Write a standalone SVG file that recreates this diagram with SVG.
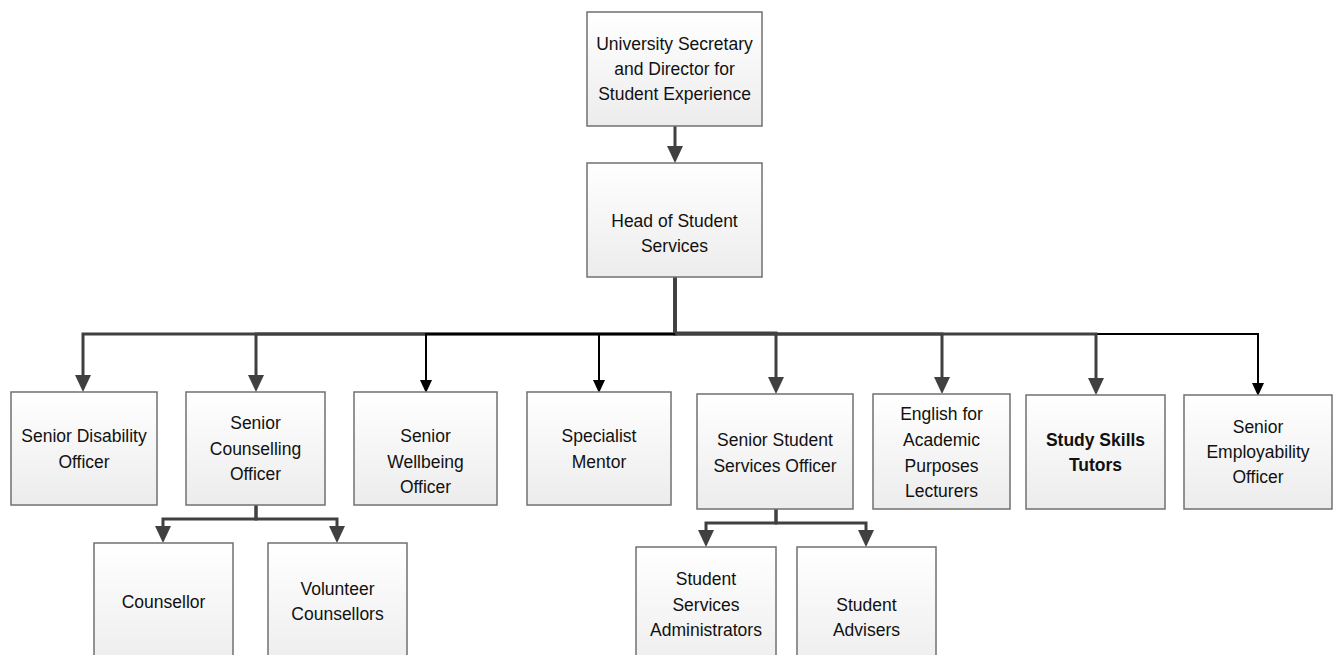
<svg xmlns="http://www.w3.org/2000/svg" width="1338" height="655" viewBox="0 0 1338 655">
  <defs>
    <linearGradient id="boxfill" x1="0" y1="0" x2="0" y2="1">
      <stop offset="0" stop-color="#ffffff"/>
      <stop offset="1" stop-color="#ececec"/>
    </linearGradient>
    <marker id="arrGray" markerUnits="userSpaceOnUse" viewBox="0 0 17 16" markerWidth="17" markerHeight="16" refX="9" refY="8" orient="auto">
      <path d="M0,0 L17,8 L0,16 z" fill="#404040"/>
    </marker>
    <marker id="arrBlack" markerUnits="userSpaceOnUse" viewBox="0 0 13 12" markerWidth="13" markerHeight="12" refX="6" refY="6" orient="auto">
      <path d="M0,0 L13,6 L0,12 z" fill="#000000"/>
    </marker>
  </defs>
  <style>
    .box { fill: url(#boxfill); stroke: #707070; stroke-width: 1.5; }
    .lbl { font-family: "Liberation Sans", Arial, sans-serif; font-size: 17.5px; fill: #111111; text-anchor: middle; }
    .bold { font-weight: bold; }
    .cg { fill: none; stroke: #404040; stroke-width: 3; }
    .cb { fill: none; stroke: #000000; stroke-width: 2; }
  </style>

  <g id="connectors">
    <path class="cg" d="M675,126 V155" marker-end="url(#arrGray)"/>
    <path class="cb" d="M675,334 H1258 V389" marker-end="url(#arrBlack)"/>
    <path class="cg" d="M675,277 V334 H83 V384" marker-end="url(#arrGray)"/>
    <path class="cg" d="M675,277 V334 H256 V384" marker-end="url(#arrGray)"/>
    <path class="cg" d="M675,277 V333 H776 V386" marker-end="url(#arrGray)"/>
    <path class="cg" d="M675,277 V334 H942 V386" marker-end="url(#arrGray)"/>
    <path class="cg" d="M675,277 V334 H1096 V387" marker-end="url(#arrGray)"/>
    <path class="cb" d="M675,334 H426 V386" marker-end="url(#arrBlack)"/>
    <path class="cb" d="M675,334 H599 V386" marker-end="url(#arrBlack)"/>
    <path class="cg" d="M256,505 V519 H163 V535" marker-end="url(#arrGray)"/>
    <path class="cg" d="M256,505 V519 H337 V535" marker-end="url(#arrGray)"/>
    <path class="cg" d="M776,509 V523 H706 V539" marker-end="url(#arrGray)"/>
    <path class="cg" d="M776,509 V523 H866 V539" marker-end="url(#arrGray)"/>
  </g>

  <g id="node-usec">
    <rect class="box" x="587" y="12" width="175" height="114"/>
    <text class="lbl" x="674.5" y="50">University Secretary</text>
    <text class="lbl" x="674.5" y="75">and Director for</text>
    <text class="lbl" x="674.5" y="100">Student Experience</text>
  </g>
  <g id="node-head">
    <rect class="box" x="587" y="163" width="175" height="114"/>
    <text class="lbl" x="674.5" y="227">Head of Student</text>
    <text class="lbl" x="674.5" y="252">Services</text>
  </g>
  <g id="node-disability">
    <rect class="box" x="11" y="392" width="146" height="113"/>
    <text class="lbl" x="84" y="442">Senior Disability</text>
    <text class="lbl" x="84" y="468">Officer</text>
  </g>
  <g id="node-counselling">
    <rect class="box" x="186" y="392" width="139" height="113"/>
    <text class="lbl" x="255.5" y="429">Senior</text>
    <text class="lbl" x="255.5" y="455">Counselling</text>
    <text class="lbl" x="255.5" y="480">Officer</text>
  </g>
  <g id="node-wellbeing">
    <rect class="box" x="354" y="392" width="143" height="113"/>
    <text class="lbl" x="425.5" y="442">Senior</text>
    <text class="lbl" x="425.5" y="468">Wellbeing</text>
    <text class="lbl" x="425.5" y="493">Officer</text>
  </g>
  <g id="node-mentor">
    <rect class="box" x="527" y="392" width="144" height="113"/>
    <text class="lbl" x="599" y="442">Specialist</text>
    <text class="lbl" x="599" y="468">Mentor</text>
  </g>
  <g id="node-ssso">
    <rect class="box" x="697" y="394" width="156" height="115"/>
    <text class="lbl" x="775" y="446">Senior Student</text>
    <text class="lbl" x="775" y="472">Services Officer</text>
  </g>
  <g id="node-eap">
    <rect class="box" x="873" y="394" width="137" height="115"/>
    <text class="lbl" x="941.5" y="420">English for</text>
    <text class="lbl" x="941.5" y="446">Academic</text>
    <text class="lbl" x="941.5" y="472">Purposes</text>
    <text class="lbl" x="941.5" y="497">Lecturers</text>
  </g>
  <g id="node-study">
    <rect class="box" x="1026" y="395" width="139" height="114"/>
    <text class="lbl bold" x="1095.5" y="446">Study Skills</text>
    <text class="lbl bold" x="1095.5" y="471">Tutors</text>
  </g>
  <g id="node-employ">
    <rect class="box" x="1184" y="395" width="148" height="114"/>
    <text class="lbl" x="1258" y="433">Senior</text>
    <text class="lbl" x="1258" y="458">Employability</text>
    <text class="lbl" x="1258" y="483">Officer</text>
  </g>
  <g id="node-counsellor">
    <rect class="box" x="94" y="543" width="139" height="130"/>
    <text class="lbl" x="163.5" y="608">Counsellor</text>
  </g>
  <g id="node-volunteer">
    <rect class="box" x="268" y="543" width="139" height="130"/>
    <text class="lbl" x="337.5" y="595">Volunteer</text>
    <text class="lbl" x="337.5" y="620">Counsellors</text>
  </g>
  <g id="node-ssa">
    <rect class="box" x="636" y="547" width="140" height="130"/>
    <text class="lbl" x="706" y="585">Student</text>
    <text class="lbl" x="706" y="611">Services</text>
    <text class="lbl" x="706" y="636">Administrators</text>
  </g>
  <g id="node-advisers">
    <rect class="box" x="797" y="547" width="139" height="130"/>
    <text class="lbl" x="866.5" y="611">Student</text>
    <text class="lbl" x="866.5" y="636">Advisers</text>
  </g>
</svg>
